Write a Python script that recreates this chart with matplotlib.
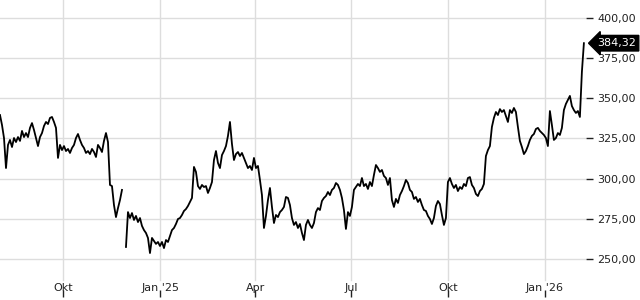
import matplotlib
matplotlib.use("Agg")
import matplotlib.pyplot as plt
import matplotlib.transforms as mtransforms
import numpy as np
import pandas as pd

# price series, sampled roughly every two days from early Aug 2024 to early Feb 2026
prices = [
    339.6, 333.4, 325.3, 306.6, 321.0, 324.1, 319.7, 325.3, 322.8, 325.9,
    323.5, 329.7, 325.9, 328.4, 325.9, 331.6, 334.6, 330.3, 325.3, 320.3,
    325.9, 328.4, 332.8, 335.3, 334.0, 337.8, 338.4, 335.3, 331.6, 312.9,
    321.0, 317.8, 320.3, 317.2, 318.5, 316.0, 319.1, 321.0, 325.3, 327.8,
    324.1, 321.0, 319.1, 316.0, 317.2, 315.3, 318.5, 316.6, 313.5, 321.0,
    319.1, 316.6, 323.5, 328.4, 322.8, 296.1, 295.4, 283.6, 276.1, 281.7,
    286.7, 293.0, np.nan, 257.5, 279.2, 275.5, 278.6, 274.3, 276.8, 273.0,
    275.5, 270.6, 268.0, 266.2, 263.1, 253.7, 263.1, 261.2, 259.4, 260.6,
    258.1, 260.6, 256.8, 261.8, 260.6, 264.3, 268.0, 269.3, 271.8, 274.9,
    275.5, 277.4, 279.9, 281.1, 283.0, 285.5, 288.0, 307.3, 304.2, 295.4,
    293.6, 296.1, 294.8, 295.4, 291.1, 294.2, 297.9, 311.6, 317.2, 309.8,
    306.6, 314.7, 317.2, 320.3, 326.6, 335.3, 321.6, 311.6, 315.3, 316.6,
    314.1, 316.0, 312.9, 309.8, 306.6, 307.9, 305.4, 312.9, 306.6, 307.9,
    299.2, 289.8, 269.3, 276.8, 286.7, 294.2, 282.4, 272.4, 277.4, 276.1,
    279.2, 280.5, 282.4, 288.6, 288.0, 283.6, 275.5, 271.2, 273.0, 269.3,
    271.8, 266.2, 261.8, 271.2, 274.3, 271.2, 269.3, 272.4, 279.2, 281.7,
    280.5, 286.1, 288.0, 289.2, 291.7, 289.8, 293.0, 294.2, 297.3, 296.1,
    293.0, 288.0, 280.5, 268.7, 279.2, 276.8, 282.4, 293.0, 294.8, 296.7,
    295.4, 300.4, 295.4, 296.7, 293.6, 297.9, 295.4, 302.3, 308.5, 306.6,
    304.2, 305.4, 301.7, 300.4, 296.1, 300.4, 286.7, 282.4, 287.4, 284.9,
    289.8, 292.3, 295.4, 299.2, 297.3, 293.0, 291.7, 287.4, 288.6, 285.5,
    287.4, 283.6, 280.5, 279.9, 276.8, 274.9, 271.8, 275.5, 283.0, 286.1,
    284.2, 277.4, 271.2, 275.5, 297.9, 300.4, 296.7, 294.2, 296.1, 292.3,
    294.8, 293.6, 296.7, 295.4, 300.4, 301.0, 296.1, 294.2, 290.5, 289.2,
    292.3, 293.6, 296.7, 314.1, 317.8, 320.3, 332.2, 337.8, 341.5, 339.6,
    343.3, 341.5, 342.7, 339.0, 335.3, 342.7, 340.9, 344.0, 341.5, 332.2,
    323.5, 319.7, 315.3, 317.2, 320.3, 324.1, 326.6, 327.8, 330.9, 331.6,
    329.7, 328.4, 327.2, 325.3, 320.3, 342.1, 333.4, 324.1, 325.3, 328.4,
    327.2, 331.6, 342.7, 346.5, 349.0, 351.5, 345.2, 342.7, 340.9, 342.1,
    338.4, 366.4, 384.32,
]
start_date = "2024-08-02"
end_date = "2026-02-07"

tick_dates = ["2024-10-01", "2025-01-01", "2025-04-01", "2025-07-01", "2025-10-01", "2026-01-01"]
tick_labels = ["Okt", "Jan '25", "Apr", "Jul", "Okt", "Jan '26"]
y_ticks = [250, 275, 300, 325, 350, 375, 400]
last_label = "384,32"

dates = pd.date_range(start_date, end_date, periods=len(prices))

plt.rcParams["font.family"] = "DejaVu Sans"
fig = plt.figure(figsize=(6.4, 3.0), dpi=100)
ax = fig.add_axes([0, 0.01, 586 / 640, 0.99])

ax.plot(dates, prices, color="black", linewidth=1.3, zorder=3)

ax.set_ylim(226.35, 411.2)
ax.set_xlim(dates[0], dates[-1] + pd.Timedelta(days=2))

for s in ax.spines.values():
    s.set_visible(False)

# horizontal grid + right axis labels
ax.yaxis.tick_right()
ax.set_yticks(y_ticks)
ax.set_yticklabels([f"{v:.2f}".replace(".", ",") for v in y_ticks])
ax.yaxis.grid(True, color="#dddddd", linewidth=1)
ax.tick_params(axis="y", direction="out", length=5, width=1, pad=3,
               colors="#222222", labelsize=8)

# vertical grid stops above the month labels
tdates = pd.to_datetime(tick_dates)
for d in tdates:
    ax.axvline(d, ymin=0.057, ymax=1, color="#dddddd", linewidth=1, zorder=0)
ax.set_xticks(tdates)
ax.set_xticklabels(tick_labels)
ax.tick_params(axis="x", direction="in", length=5, width=1, pad=-10,
               colors="#222222", labelsize=8)

# last price marker
trans = mtransforms.blended_transform_factory(ax.transAxes, ax.transData)
ax.text(1.019, prices[-1], last_label, transform=trans, ha="left", va="center",
        color="white", fontsize=8, clip_on=False, zorder=5,
        bbox=dict(boxstyle="larrow,pad=0.25", fc="black", ec="black"))

fig.savefig("out.png", dpi=100)
